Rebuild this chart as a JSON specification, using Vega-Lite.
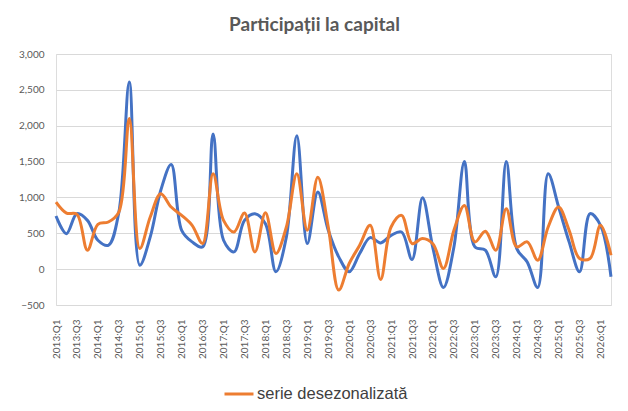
{
  "$schema": "https://vega.github.io/schema/vega-lite/v6.json",
  "autosize": {"type": "none"},
  "padding": {"left": 56, "top": 54, "right": 17, "bottom": 106},
  "width": 555,
  "height": 251,
  "background": "white",
  "title": {
    "text": "Participații la capital",
    "fontSize": 19,
    "font": "Lato",
    "fontWeight": "bold",
    "color": "#595959",
    "dx": -19,
    "offset": 14
  },
  "data": {
    "values": [
      {"q": "2013:Q1", "b": 741, "o": 935},
      {"q": "2013:Q2", "b": 495, "o": 782},
      {"q": "2013:Q3", "b": 773, "o": 764},
      {"q": "2013:Q4", "b": 680, "o": 264},
      {"q": "2014:Q1", "b": 403, "o": 625},
      {"q": "2014:Q2", "b": 333, "o": 657},
      {"q": "2014:Q3", "b": 790, "o": 796},
      {"q": "2014:Q4", "b": 2610, "o": 2100},
      {"q": "2015:Q1", "b": 55, "o": 287},
      {"q": "2015:Q2", "b": 449, "o": 727},
      {"q": "2015:Q3", "b": 1097, "o": 1051},
      {"q": "2015:Q4", "b": 1460, "o": 866},
      {"q": "2016:Q1", "b": 542, "o": 750},
      {"q": "2016:Q2", "b": 380, "o": 611},
      {"q": "2016:Q3", "b": 310, "o": 357},
      {"q": "2016:Q4", "b": 1884, "o": 1329},
      {"q": "2017:Q1", "b": 403, "o": 680},
      {"q": "2017:Q2", "b": 241, "o": 518},
      {"q": "2017:Q3", "b": 680, "o": 782},
      {"q": "2017:Q4", "b": 773, "o": 240},
      {"q": "2018:Q1", "b": 634, "o": 787},
      {"q": "2018:Q2", "b": -37, "o": 218},
      {"q": "2018:Q3", "b": 449, "o": 588},
      {"q": "2018:Q4", "b": 1861, "o": 1329},
      {"q": "2019:Q1", "b": 356, "o": 542},
      {"q": "2019:Q2", "b": 1074, "o": 1282},
      {"q": "2019:Q3", "b": 542, "o": 588},
      {"q": "2019:Q4", "b": 171, "o": -292},
      {"q": "2020:Q1", "b": -37, "o": 79},
      {"q": "2020:Q2", "b": 218, "o": 333},
      {"q": "2020:Q3", "b": 440, "o": 611},
      {"q": "2020:Q4", "b": 366, "o": -144},
      {"q": "2021:Q1", "b": 472, "o": 588},
      {"q": "2021:Q2", "b": 518, "o": 750},
      {"q": "2021:Q3", "b": 134, "o": 357},
      {"q": "2021:Q4", "b": 995, "o": 426},
      {"q": "2022:Q1", "b": 290, "o": 350},
      {"q": "2022:Q2", "b": -255, "o": 9},
      {"q": "2022:Q3", "b": 310, "o": 542},
      {"q": "2022:Q4", "b": 1500, "o": 889},
      {"q": "2023:Q1", "b": 310, "o": 380},
      {"q": "2023:Q2", "b": 264, "o": 528},
      {"q": "2023:Q3", "b": -106, "o": 264},
      {"q": "2023:Q4", "b": 1500, "o": 843},
      {"q": "2024:Q1", "b": 287, "o": 310},
      {"q": "2024:Q2", "b": 100, "o": 380},
      {"q": "2024:Q3", "b": -255, "o": 125},
      {"q": "2024:Q4", "b": 1329, "o": 588},
      {"q": "2025:Q1", "b": 866, "o": 866},
      {"q": "2025:Q2", "b": 380, "o": 542},
      {"q": "2025:Q3", "b": -37, "o": 148},
      {"q": "2025:Q4", "b": 773, "o": 148},
      {"q": "2026:Q1", "b": 611, "o": 611},
      {"q": "2026:Q2", "b": -106, "o": 194}
    ]
  },
  "transform": [
    {"fold": ["b", "o"], "as": ["k", "v"]},
    {"calculate": "datum.k == 'b' ? 'serie brută' : 'serie desezonalizată'", "as": "serie"}
  ],
  "mark": {"type": "line", "interpolate": "catmull-rom", "strokeWidth": 3},
  "encoding": {
    "x": {
      "field": "q",
      "type": "ordinal",
      "sort": null,
      "scale": {"padding": 0},
      "axis": {
        "title": null,
        "labelAngle": -90,
        "labelExpr": "indexof(datum.value, 'Q1') > 0 || indexof(datum.value, 'Q3') > 0 ? datum.value : ''",
        "labelFontSize": 10,
        "labelFont": "Lato",
        "labelColor": "#595959",
        "labelPadding": 14,
        "ticks": false,
        "domain": false,
        "grid": false
      }
    },
    "y": {
      "field": "v",
      "type": "quantitative",
      "scale": {"domain": [-500, 3000], "nice": false},
      "axis": {
        "title": null,
        "values": [-500, 0, 500, 1000, 1500, 2000, 2500, 3000],
        "format": ",d",
        "labelFontSize": 10,
        "labelFont": "Lato",
        "labelColor": "#595959",
        "labelPadding": 12,
        "ticks": false,
        "domain": false,
        "gridColor": "#d9d9d9"
      }
    },
    "color": {
      "field": "serie",
      "type": "nominal",
      "scale": {
        "domain": ["serie brută", "serie desezonalizată"],
        "range": ["#4472C4", "#ED7D31"]
      },
      "legend": {
        "title": null,
        "values": ["serie desezonalizată"],
        "orient": "none",
        "legendX": 167,
        "legendY": 324,
        "symbolType": "stroke",
        "symbolSize": 841,
        "symbolStrokeWidth": 3,
        "labelFontSize": 16.5,
        "labelFont": "Liberation Sans",
        "labelColor": "#404040",
        "labelOffset": 2,
        "labelLimit": 300
      }
    }
  }
}
